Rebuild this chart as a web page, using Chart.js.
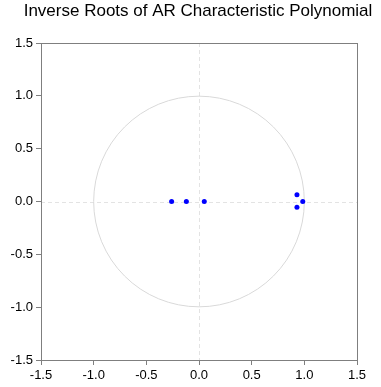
<!DOCTYPE html>
<html lang="en">
<head>
  <meta charset="UTF-8">
  <title>Inverse Roots of AR Characteristic Polynomial</title>
  <script src="https://cdn.jsdelivr.net/npm/chart.js"></script>
  <style>
    * { margin: 0; padding: 0; }
    body { background: #fff; width: 381px; height: 387px; overflow: hidden; }
    #wrap { width: 381px; height: 387px; }
  </style>
</head>
<body>
  <div id="wrap"><canvas id="roots"></canvas></div>
  <script>
    const rootsReal = [-0.26, -0.12, 0.05, 0.93, 0.985, 0.93];
    const rootsImag = [0.0, 0.0, 0.0, 0.065, 0.0, -0.055];
    const axisTicks = [-1.5, -1.0, -0.5, 0.0, 0.5, 1.0, 1.5];
    const titleText = 'Inverse Roots of AR Characteristic Polynomial';

    const points = rootsReal.map((re, i) => ({ x: re, y: rootsImag[i] }));
    const fontFamily = 'Arial, "Liberation Sans", sans-serif';

    // unit circle, zero lines, frame and title (centred over the plot box)
    const framePlugin = {
      id: 'frame',
      beforeDatasetsDraw(chart) {
        const { ctx, chartArea: a, scales: { x, y } } = chart;
        const cx = x.getPixelForValue(0), cy = y.getPixelForValue(0);
        ctx.save();
        ctx.strokeStyle = '#e3e3e3';
        ctx.lineWidth = 1;
        ctx.setLineDash([4, 3]);
        ctx.beginPath();
        ctx.moveTo(Math.round(cx) + 0.5, a.top); ctx.lineTo(Math.round(cx) + 0.5, a.bottom);
        ctx.moveTo(a.left, Math.round(cy) + 0.5); ctx.lineTo(a.right, Math.round(cy) + 0.5);
        ctx.stroke();
        ctx.setLineDash([]);
        ctx.strokeStyle = '#d9d9d9';
        ctx.beginPath();
        ctx.arc(cx, cy, x.getPixelForValue(1) - cx, 0, Math.PI * 2);
        ctx.stroke();
        ctx.restore();
      },
      afterDraw(chart) {
        const { ctx, chartArea: a } = chart;
        ctx.save();
        ctx.strokeStyle = '#7f7f7f';
        ctx.lineWidth = 1;
        ctx.strokeRect(Math.round(a.left) + 0.5, Math.round(a.top) + 0.5,
          Math.round(a.right - a.left), Math.round(a.bottom - a.top));
        ctx.fillStyle = '#000';
        ctx.font = '17px ' + fontFamily;
        ctx.textAlign = 'center';
        ctx.textBaseline = 'alphabetic';
        ctx.fillText(titleText, (a.left + a.right) / 2 - 1, 16);
        ctx.restore();
      }
    };

    const tickFont = { family: fontFamily, size: 13 };
    const axisOpts = (fit) => ({
      type: 'linear',
      min: -1.5,
      max: 1.5,
      afterBuildTicks: s => { s.ticks = axisTicks.map(v => ({ value: v })); },
      afterFit: fit,
      ticks: {
        color: '#000',
        font: tickFont,
        padding: 3,
        maxRotation: 0,
        callback: v => Number(v).toFixed(1)
      },
      grid: {
        drawOnChartArea: false,
        drawTicks: true,
        tickLength: 5,
        tickColor: '#7f7f7f'
      },
      border: { display: false }
    });

    new Chart(document.getElementById('roots'), {
      type: 'scatter',
      data: {
        datasets: [{
          data: points,
          backgroundColor: '#0000ff',
          borderColor: '#0000ff',
          pointRadius: 2.5,
          pointHoverRadius: 2.5,
          borderWidth: 0
        }]
      },
      options: {
        responsive: true,
        maintainAspectRatio: false,
        animation: false,
        layout: { padding: { top: 43, right: 24, bottom: 0, left: 0 } },
        plugins: {
          legend: { display: false },
          tooltip: { enabled: false },
          title: { display: false }
        },
        scales: {
          x: axisOpts(s => { s.height = 27; }),
          y: axisOpts(s => { s.width = 41; })
        }
      },
      plugins: [framePlugin]
    });
  </script>
</body>
</html>
